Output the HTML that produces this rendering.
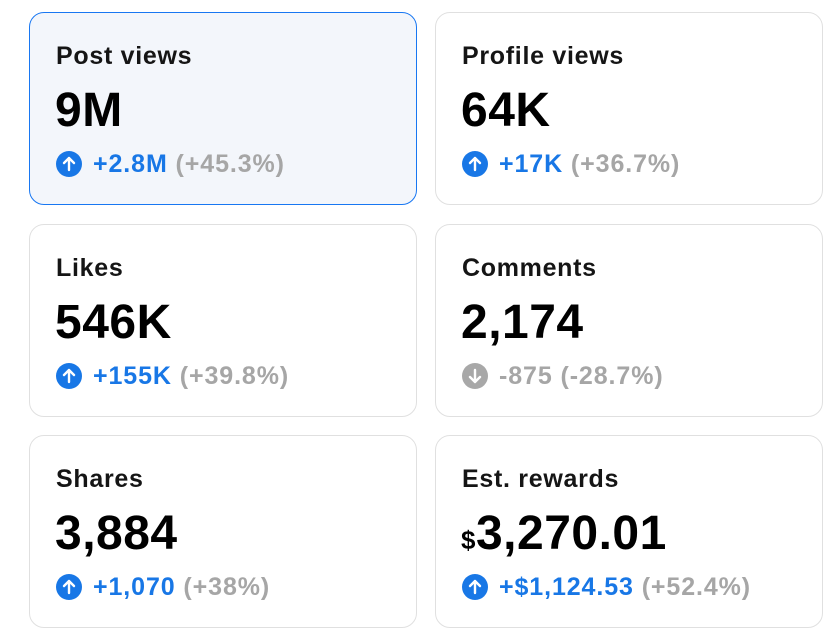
<!DOCTYPE html>
<html><head><meta charset="utf-8"><style>
*{margin:0;padding:0;box-sizing:border-box}
body{width:839px;height:637px;background:#fff;font-family:"Liberation Sans",sans-serif;position:relative;overflow:hidden}
.card{position:absolute;width:388px;height:193px;border:1.5px solid #e0e0e0;border-radius:15px;background:#fff}
.card.sel{background:#f3f6fb;border-color:#1877f2}
.t{position:absolute;left:26px;top:28px;font-size:25px;font-weight:bold;color:#151515;letter-spacing:0.7px;line-height:30px}
.n{position:absolute;left:25px;top:72px;font-size:48px;font-weight:bold;color:#000;line-height:52px;letter-spacing:0.5px}
.n small{font-size:26px}
.c{position:absolute;left:26px;top:136px;font-size:25px;font-weight:bold;line-height:30px;white-space:nowrap;letter-spacing:0.9px}
.ic{display:inline-block;width:26px;height:26px;border-radius:50%;background:#1877e6;vertical-align:-5px;margin-right:11px;position:relative}
.ic svg{position:absolute;left:0;top:0}
.g .ic{background:#a8a8a8}
.b{color:#1877e6}
.gr{color:#a6a6a6}
</style></head><body>
<div class="card sel" style="left:29px;top:12px"><div class="t">Post views</div><div class="n">9M</div><div class="c"><span class="ic"><svg width="26" height="26"><path d="M13 19V7M8 12l5-5 5 5" stroke="#fff" stroke-width="2.4" fill="none" stroke-linecap="round" stroke-linejoin="round"/></svg></span><span class="b">+2.8M</span> <span class="gr">(+45.3%)</span></div></div>
<div class="card" style="left:435px;top:12px"><div class="t">Profile views</div><div class="n">64K</div><div class="c"><span class="ic"><svg width="26" height="26"><path d="M13 19V7M8 12l5-5 5 5" stroke="#fff" stroke-width="2.4" fill="none" stroke-linecap="round" stroke-linejoin="round"/></svg></span><span class="b">+17K</span> <span class="gr">(+36.7%)</span></div></div>
<div class="card" style="left:29px;top:224px"><div class="t">Likes</div><div class="n">546K</div><div class="c"><span class="ic"><svg width="26" height="26"><path d="M13 19V7M8 12l5-5 5 5" stroke="#fff" stroke-width="2.4" fill="none" stroke-linecap="round" stroke-linejoin="round"/></svg></span><span class="b">+155K</span> <span class="gr">(+39.8%)</span></div></div>
<div class="card" style="left:435px;top:224px"><div class="t">Comments</div><div class="n">2,174</div><div class="c g"><span class="ic"><svg width="26" height="26"><path d="M13 7V19M8 14l5 5 5-5" stroke="#fff" stroke-width="2.4" fill="none" stroke-linecap="round" stroke-linejoin="round"/></svg></span><span class="gr">-875 (-28.7%)</span></div></div>
<div class="card" style="left:29px;top:435px"><div class="t">Shares</div><div class="n">3,884</div><div class="c"><span class="ic"><svg width="26" height="26"><path d="M13 19V7M8 12l5-5 5 5" stroke="#fff" stroke-width="2.4" fill="none" stroke-linecap="round" stroke-linejoin="round"/></svg></span><span class="b">+1,070</span> <span class="gr">(+38%)</span></div></div>
<div class="card" style="left:435px;top:435px"><div class="t">Est. rewards</div><div class="n"><small>$</small>3,270.01</div><div class="c"><span class="ic"><svg width="26" height="26"><path d="M13 19V7M8 12l5-5 5 5" stroke="#fff" stroke-width="2.4" fill="none" stroke-linecap="round" stroke-linejoin="round"/></svg></span><span class="b">+$1,124.53</span> <span class="gr">(+52.4%)</span></div></div>
</body></html>
